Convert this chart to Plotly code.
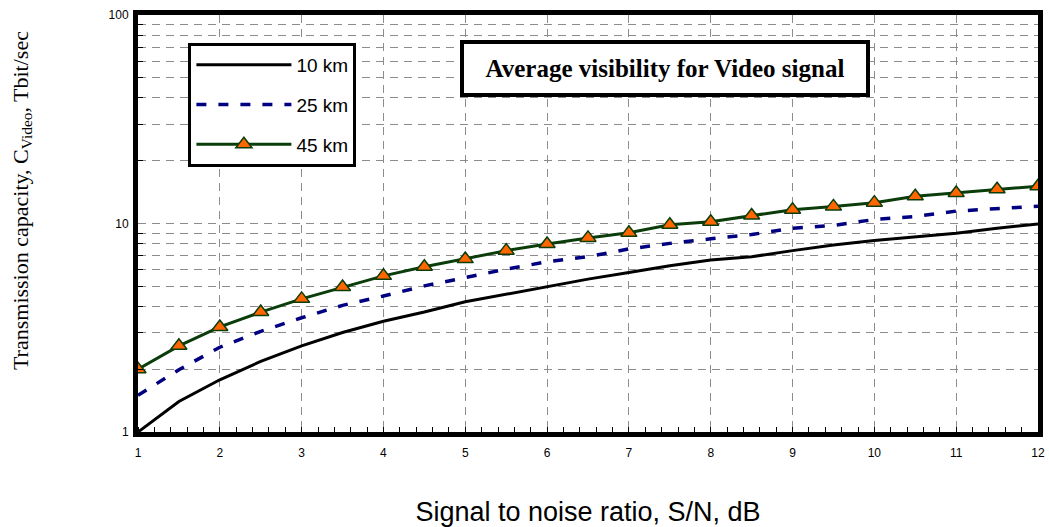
import plotly.graph_objects as go

snr_db = [1, 1.5, 2, 2.5, 3, 3.5, 4, 4.5, 5, 5.5, 6, 6.5, 7, 7.5, 8, 8.5,
          9, 9.5, 10, 10.5, 11, 11.5, 12]
cap_10km = [1.0, 1.40, 1.78, 2.18, 2.59, 3.0, 3.40, 3.76, 4.21, 4.57, 4.96, 5.41,
            5.82, 6.27, 6.68, 6.93, 7.41, 7.89, 8.28, 8.59, 8.98, 9.49, 9.95]
cap_25km = [1.50, 1.99, 2.55, 3.04, 3.53, 4.05, 4.49, 5.02, 5.50, 6.04, 6.55, 6.93,
            7.55, 8.03, 8.44, 8.85, 9.49, 9.78, 10.45, 10.8, 11.47, 11.78, 12.1]
cap_45km = [2.0, 2.59, 3.19, 3.76, 4.35, 4.96, 5.61, 6.20, 6.75, 7.41, 7.98, 8.53,
            9.02, 9.86, 10.2, 10.93, 11.65, 12.08, 12.59, 13.5, 14.0, 14.6, 15.1]

x_ticks = list(range(1, 13))
y_ticks = [1, 10, 100]
y_minor = [2, 3, 4, 5, 6, 7, 8, 9, 20, 30, 40, 50, 60, 70, 80, 90]

fig = go.Figure()
fig.add_trace(go.Scatter(x=snr_db, y=cap_10km, mode="lines", name="10 km",
                         legendgroup="a",
                         line=dict(color="black", width=3)))
fig.add_trace(go.Scatter(x=snr_db, y=cap_25km, mode="lines", name="25 km",
                         legendgroup="b",
                         line=dict(color="#000080", width=3.5, dash="10px,12px")))
fig.add_trace(go.Scatter(x=snr_db, y=cap_45km, mode="lines+markers", name="45 km",
                         legendgroup="c",
                         line=dict(color="#0a3d0a", width=3),
                         marker=dict(symbol="triangle-up", size=14, color="#ff6600",
                                     line=dict(color="#0a3d0a", width=1.5))))

grid_color = "#8c8c8c"
fig.update_layout(
    width=1049, height=527,
    margin=dict(l=138, r=11, t=15, b=95),
    paper_bgcolor="white", plot_bgcolor="white",
    font=dict(family="Arial, Liberation Sans", size=12, color="black"),
    showlegend=True,
    legend=dict(x=0.056, y=0.933, xanchor="left", yanchor="top",
                bordercolor="black", borderwidth=3, bgcolor="white",
                font=dict(family="Arial, Liberation Sans", size=19, color="black"),
                tracegroupgap=12, itemwidth=95),
    xaxis=dict(range=[1, 12], tickvals=x_ticks, ticks="", automargin=False,
               showline=True, mirror=True, linewidth=5, linecolor="black",
               showgrid=True, gridcolor=grid_color, griddash="8px,6px", gridwidth=1,
               zeroline=False, ticklabelstandoff=6,
               tickfont=dict(size=12),
               minor=dict(dtick=0.2, ticks="inside", ticklen=5, tickcolor="black",
                          tickwidth=1, showgrid=False),
               title=dict(text="Signal to noise ratio, S/N, dB",
                          font=dict(family="Arial, Liberation Sans", size=27),
                          standoff=48)),
    yaxis=dict(type="log", range=[0, 2], tickvals=y_ticks, ticktext=["1", "10", "100"],
               ticks="", showline=True, mirror=True, linewidth=5, linecolor="black",
               automargin=False,
               showgrid=True, gridcolor=grid_color, griddash="8px,6px", gridwidth=1,
               zeroline=False, ticklabelstandoff=2, tickfont=dict(size=12),
               minor=dict(tickvals=y_minor, ticks="inside", ticklen=5, tickcolor="black",
                          showgrid=True, gridcolor=grid_color, griddash="8px,6px",
                          gridwidth=1)),
    annotations=[
        dict(text="<b>Average visibility for Video signal</b>", xref="paper", yref="paper",
             x=0.5855, y=0.872, xanchor="center", yanchor="middle", showarrow=False,
             font=dict(family="Liberation Serif, Times New Roman", size=25, color="black"),
             bordercolor="black", borderwidth=4, bgcolor="white", width=400, height=47),
        dict(text="Transmission capacity, C<sub>Video</sub>, Tbit/sec", xref="paper",
             yref="paper", x=-0.129, y=0.556, xanchor="center", yanchor="middle",
             textangle=-90, showarrow=False,
             font=dict(family="Liberation Serif, Times New Roman", size=22, color="black")),
    ],
)

fig.write_html("out.html")
